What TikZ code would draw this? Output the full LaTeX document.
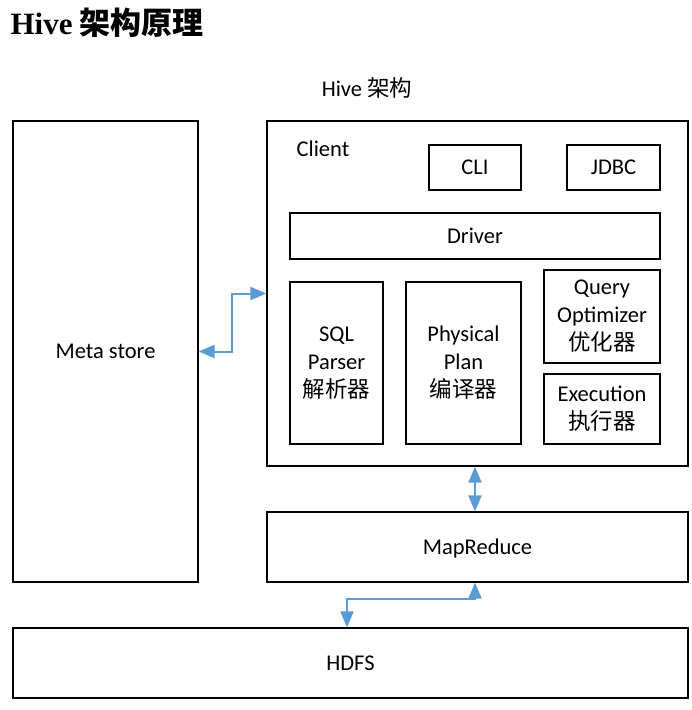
\documentclass[tikz,border=0pt]{standalone}
\usepackage{fontspec}
\setmainfont{Carlito}
\newfontfamily\cjk{Noto Sans CJK SC}
\newfontfamily\titlefont{Liberation Serif}
\usepackage{tikz}
\usetikzlibrary{arrows.meta}
\definecolor{linkblue}{HTML}{5B9BD5}

\begin{document}
\begin{tikzpicture}[x=1pt,y=-1pt,
  box/.style={draw,rectangle,line width=1.2pt,align=center,inner sep=0pt},
  txt/.style={font=\fontsize{22.5}{28}\selectfont},
  link/.style={linkblue,line width=2pt,{Triangle[length=16,width=13]}-{Triangle[length=16,width=13]}}]
\useasboundingbox (0,0) rectangle (692,710);

\node [anchor=base west,font=\fontsize{31}{36}\selectfont\bfseries] (title) at(7,34){{\titlefont Hive} {\cjk 架构原理}};

\node [txt] (hlabel) at(367,88){Hive {\cjk 架构}};
\node [box,txt,minimum width=185,minimum height=461] (meta) at(105.5,351.5){Meta store};
\node [box,minimum width=421,minimum height=345] (hive) at(477.5,293.5){};
\node [txt] (client) at(323,149){Client};
\node [box,txt,minimum width=92,minimum height=45] (cli) at(475,167.5){CLI};
\node [box,txt,minimum width=93,minimum height=45] (jdbc) at(613.5,167.5){JDBC};
\node [box,txt,minimum width=370,minimum height=46] (driver) at(475,236){Driver};
\node [box,txt,minimum width=93,minimum height=162] (sql) at(336.5,363){SQL\\Parser\\{\cjk 解析器}};
\node [box,txt,minimum width=115,minimum height=162] (plan) at(463.5,363){Physical\\Plan\\{\cjk 编译器}};
\node [box,txt,minimum width=116,minimum height=93] (opt) at(602,316.5){Query\\Optimizer\\{\cjk 优化器}};
\node [box,txt,minimum width=116,minimum height=70] (exec) at(602,409){Execution\\{\cjk 执行器}};
\node [box,txt,text depth=0pt,minimum width=421,minimum height=70] (mr) at(477.5,547){MapReduce};
\node [box,txt,minimum width=675,minimum height=70] (hdfs) at(350.5,663){HDFS};

% connectors
\draw [link] (hive.west) -- ++(-34,0) |- (meta.east);
\draw [link] ([xshift=-2.5]hive.south) -- ([xshift=-2.5]mr.north);
\coordinate (bend) at (475,599);
\draw [link] ([xshift=-2.5]mr.south) -- (bend) -| ([xshift=-3.5]hdfs.north);
\end{tikzpicture}
\end{document}
